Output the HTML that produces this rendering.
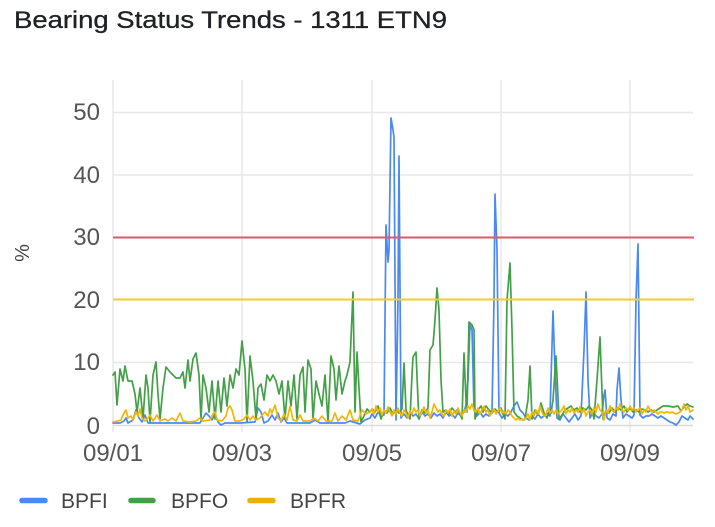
<!DOCTYPE html>
<html><head><meta charset="utf-8">
<style>
html,body{margin:0;padding:0;background:#fff;}
body{width:715px;height:527px;overflow:hidden;}
svg{display:block;font-family:"Liberation Sans",Arial,sans-serif;filter:blur(0.35px);}
</style></head>
<body>
<svg width="715" height="527" viewBox="0 0 715 527" xmlns="http://www.w3.org/2000/svg">
<rect width="715" height="527" fill="#fff"/>
<text x="14" y="28" font-size="24" fill="#202124" stroke="#202124" stroke-width="0.3" textLength="433" lengthAdjust="spacingAndGlyphs">Bearing Status Trends - 1311 ETN9</text>

<!-- gridlines -->
<g stroke="#e8e8e8" stroke-width="1.5" fill="none">
<line x1="113" y1="112.5" x2="693" y2="112.5"/>
<line x1="113" y1="175" x2="693" y2="175"/>
<line x1="113" y1="362.5" x2="693" y2="362.5"/>
<line x1="113" y1="80" x2="113" y2="432"/>
<line x1="242" y1="80" x2="242" y2="432"/>
<line x1="372" y1="80" x2="372" y2="432"/>
<line x1="501" y1="80" x2="501" y2="432"/>
<line x1="630" y1="80" x2="630" y2="432"/>
<line x1="113" y1="425.5" x2="693" y2="425.5" stroke="#dadada"/>
</g>

<!-- y labels -->
<g font-size="24" fill="#555" text-anchor="end">
<text x="100" y="120">50</text>
<text x="100" y="183">40</text>
<text x="100" y="245">30</text>
<text x="100" y="308">20</text>
<text x="100" y="370">10</text>
<text x="100" y="434">0</text>
</g>
<text x="0" y="0" font-size="20" fill="#444" text-anchor="middle" transform="translate(29,253) rotate(-90)">%</text>

<!-- x labels -->
<g font-size="24" fill="#555" text-anchor="middle">
<text x="113" y="461">09/01</text>
<text x="242" y="461">09/03</text>
<text x="372" y="461">09/05</text>
<text x="501" y="461">09/07</text>
<text x="630" y="461">09/09</text>
</g>

<g fill="none" stroke-width="1.7" stroke-linejoin="round" stroke-linecap="round">
<!-- BPFI -->
<polyline stroke="#4a89f3" points="113,423 120,423 124,421 126,418 128,423 133,420 136,410 139,418 142,422 145,415 148,423 160,423 175,423 190,423 200,423 203,418 206,413 209,416 212,420 215,414 218,422 221,425 225,423 240,423 255,422 258,408 261,412 264,423 268,421 272,415 275,420 278,413 281,422 284,418 287,423 300,423 310,423 315,420 320,423 335,423 345,423 350,421 360,424 365,420 370,418 372,414 375,418 378,412 381,416 384,415 386,225 388,262 389,250 391,118 393,130 394,137 396,420 398,300 399,156 401,418 404,414 407,418 410,412 413,416 416,414 419,419 422,412 425,416 428,414 431,418 434,413 437,416 440,414 443,418 446,412 449,416 452,414 455,418 458,413 461,416 464,412 466,405 468,380 470,325 472,330 474,410 477,416 480,412 483,417 486,414 489,416 492,412 494,300 495,194 497,250 499,413 502,418 505,414 508,416 511,412 514,406 517,402 520,410 523,413 526,418 529,420 532,416 535,419 538,414 541,418 544,416 547,413 550,416 551,380 553,311 555,370 557,418 560,420 563,414 566,418 569,422 572,418 575,414 578,420 581,416 584,350 586,292 588,380 590,418 593,412 596,416 599,418 602,414 604,395 605,390 607,418 610,420 613,414 616,416 617,390 619,368 621,400 623,418 626,414 629,416 632,418 634,415 636,300 638,244 640,415 643,418 646,416 649,416 652,414 655,416 658,418 661,416 664,418 667,420 670,422 673,423 676,425 679,422 682,416 685,418 688,420 690,416 693,419"/>
<!-- BPFO -->
<polyline stroke="#43a047" points="113,375 115,372 117,405 120,369 123,381 125,366 128,381 132,381 135,394 137,412 140,388 143,419 146,375 148,388 150,422 153,375 156,362 158,394 160,419 163,388 166,367 170,372 173,375 176,378 180,378 183,372 185,388 188,360 190,381 193,359 196,353 199,375 201,420 203,375 206,388 209,412 212,381 215,419 218,381 221,412 224,378 227,406 230,375 233,388 236,369 239,375 242,341 245,369 247,422 250,356 253,381 256,419 258,388 261,384 264,400 267,375 270,381 273,375 276,381 279,394 282,381 285,419 288,381 291,406 294,375 297,419 300,375 303,367 305,412 308,360 311,369 313,419 316,381 319,394 322,406 325,375 328,422 331,356 334,369 336,400 339,366 342,394 345,381 347,375 350,362 353,292 355,412 357,352 359,388 361,422 364,416 367,409 370,412 372,409 375,412 378,406 381,419 384,410 387,413 390,408 393,414 396,410 399,413 402,409 404,363 406,410 408,415 410,419 412,375 413,357 416,352 418,400 419,419 422,410 425,413 428,408 430,350 433,345 435,320 437,288 439,310 441,380 443,412 446,410 449,414 452,408 455,412 458,409 460,414 462,419 464,353 466,400 467,412 469,322 472,325 474,330 475,419 478,410 481,406 483,412 486,406 489,410 492,413 495,409 498,412 501,408 503,414 505,419 507,300 510,263 512,330 514,412 517,416 520,418 523,420 525,419 528,400 530,366 532,419 535,410 538,415 541,403 544,413 547,418 549,412 551,413 553,400 556,356 559,419 562,415 565,410 568,408 571,406 574,410 577,408 580,412 583,408 586,410 589,406 592,410 594,419 597,380 600,337 603,419 606,410 609,413 612,408 615,412 618,408 621,410 624,406 627,412 630,408 633,412 636,410 639,412 642,409 645,410 648,412 651,410 654,412 657,410 660,408 663,406 668,406 673,407 678,406 681,411 684,407 687,404 690,406 693,407"/>
<!-- BPFR -->
<polyline stroke="#f2b705" points="113,422 118,421 121,420 124,413 126,410 128,418 131,416 133,420 136,412 138,416 140,409 142,418 145,421 148,418 150,415 153,421 157,415 160,421 165,419 168,421 172,418 176,421 180,413 183,421 190,422 196,421 200,418 203,421 210,420 213,414 215,412 217,420 222,421 226,416 228,408 230,406 232,410 235,421 240,421 244,419 247,415 250,420 253,416 256,420 260,418 263,414 265,412 268,416 270,409 272,413 275,405 278,418 281,421 284,414 287,420 290,406 293,420 297,421 300,415 303,421 310,421 314,418 318,421 322,416 326,421 332,421 335,413 338,421 342,416 346,420 350,410 353,420 358,421 362,410 366,414 370,412 372,409 374,414 376,406 378,412 380,408 382,415 384,410 386,413 388,407 390,412 392,416 394,410 396,414 398,408 400,413 402,416 404,410 406,413 408,418 410,411 412,414 414,408 416,412 418,410 420,416 422,412 424,407 426,413 428,410 430,418 432,412 434,404 436,408 438,412 440,410 442,414 444,416 446,410 448,413 450,409 452,416 454,411 456,414 458,408 460,413 462,416 464,410 466,412 468,406 470,409 472,404 474,410 476,412 478,408 480,414 482,410 484,406 486,412 488,410 490,416 492,412 494,409 496,414 498,411 500,408 502,413 504,411 506,414 508,410 510,412 512,416 514,418 516,420 518,418 520,420 522,419 524,420 526,418 528,414 530,420 532,412 534,416 536,410 538,414 540,406 542,412 544,416 546,414 548,408 550,413 552,410 554,414 556,410 558,414 560,412 562,410 564,406 566,414 568,410 570,412 572,408 574,413 576,410 578,412 580,407 582,413 584,409 586,416 588,412 590,410 592,414 594,408 596,412 598,404 600,410 602,412 604,420 606,410 608,413 610,406 612,410 614,412 616,408 618,410 620,404 622,410 624,412 626,408 628,410 630,406 632,410 634,408 636,412 638,410 640,408 642,414 644,410 646,412 648,406 650,410 652,412 654,410 656,412 658,414 660,412 662,412 664,413 666,412 668,412 670,413 672,412 674,413 676,414 678,413 680,412 682,410 684,404 686,410 688,406 690,412 693,410"/>
</g>

<!-- thresholds -->
<line x1="113" y1="237.5" x2="694" y2="237.5" stroke="#e0566a" stroke-width="2"/>
<line x1="113" y1="299.5" x2="694" y2="299.5" stroke="#f0cc30" stroke-width="2"/>

<!-- legend -->
<g stroke-width="5.5" stroke-linecap="round">
<line x1="22" y1="500.5" x2="45" y2="500.5" stroke="#4a89f3"/>
<line x1="131" y1="500.5" x2="153" y2="500.5" stroke="#43a047"/>
<line x1="250" y1="500.5" x2="273" y2="500.5" stroke="#e8b400"/>
</g>
<g font-size="21" fill="#444">
<text x="61" y="508">BPFI</text>
<text x="171" y="508">BPFO</text>
<text x="290" y="508">BPFR</text>
</g>
</svg>
</body></html>
